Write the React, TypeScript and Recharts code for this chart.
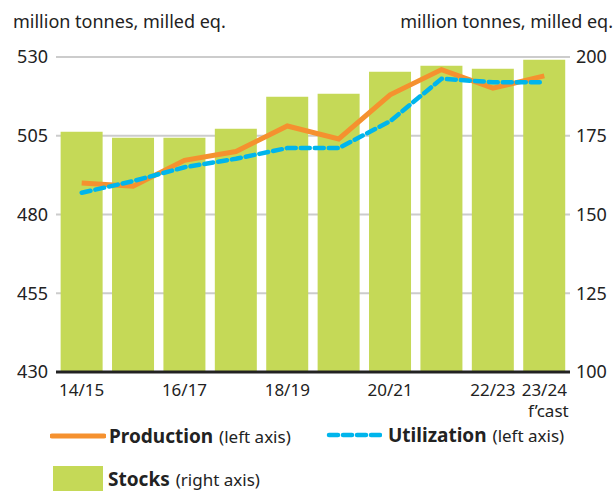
import React from "react";
import { ComposedChart, Bar, Line, XAxis, YAxis, CartesianGrid } from "recharts";

const categories = ["14/15", "15/16", "16/17", "17/18", "18/19", "19/20", "20/21", "21/22", "22/23", "23/24"];
const tickLabels = ["14/15", "", "16/17", "", "18/19", "", "20/21", "", "22/23", "23/24"];
const tickSubLabels = ["", "", "", "", "", "", "", "", "", "f\u2019cast"];
const production = [490.0, 489.0, 497.2, 500.0, 508.1, 504.0, 518.0, 526.0, 520.1, 524.0];
const utilization = [486.9, 490.6, 495.0, 497.7, 501.1, 501.1, 509.6, 523.1, 522.0, 522.0];
const stocks = [176.3, 174.4, 174.4, 177.2, 187.4, 188.3, 195.3, 197.2, 196.3, 199.1];
const leftTicks = [430, 455, 480, 505, 530];
const rightTicks = [100, 125, 150, 175, 200];

const data = categories.map((c, i) => ({
  cat: c,
  production: production[i],
  utilization: utilization[i],
  stocks: stocks[i],
}));

const FONT = "'Noto Sans', 'Open Sans', sans-serif";
const ORANGE = "#f5912f";
const BLUE = "#00b5ec";
const GREEN = "#c5d957";

const XTick = (props: any) => {
  const { x, y, payload } = props;
  const i = categories.indexOf(payload.value);
  return (
    <g>
      <text x={x} y={y + 16} textAnchor="middle" fontSize={17} fill="#222" fontFamily={FONT}>
        {tickLabels[i]}
      </text>
      {tickSubLabels[i] ? (
        <text x={x + 4} y={y + 37} textAnchor="middle" fontSize={17} fill="#222" fontFamily={FONT}>
          {tickSubLabels[i]}
        </text>
      ) : null}
    </g>
  );
};

export default function App() {
  return (
    <div style={{ position: "absolute", left: 0, top: 0, width: 616, height: 491, background: "#fff", fontFamily: FONT, overflow: "hidden" }}>
      <div style={{ position: "absolute", left: 13, top: 9, fontSize: 18, color: "#222" }}>million tonnes, milled eq.</div>
      <div style={{ position: "absolute", right: 3, top: 9, fontSize: 18, color: "#222" }}>million tonnes, milled eq.</div>
      <div style={{ position: "absolute", left: 0, top: 0 }}>
        <ComposedChart width={616} height={440} data={data} margin={{ top: 57, right: 0, bottom: 0, left: 0 }} barCategoryGap="9%">
          <CartesianGrid vertical={false} stroke="#cccccc" strokeWidth={2} yAxisId="left" />
          <XAxis
            dataKey="cat"
            interval={0}
            height={68}
            tick={<XTick />}
            tickLine={false}
            axisLine={{ stroke: "#222", strokeWidth: 3 }}
          />
          <YAxis
            yAxisId="left"
            orientation="left"
            width={56}
            domain={[430, 530]}
            ticks={leftTicks}
            tickLine={false}
            axisLine={false}
            tickSize={0}
            tickMargin={8}
            tick={{ fontSize: 18, fill: "#222", fontFamily: FONT }}
          />
          <YAxis
            yAxisId="right"
            orientation="right"
            width={46}
            domain={[100, 200]}
            ticks={rightTicks}
            tickLine={false}
            axisLine={false}
            tickSize={0}
            tickMargin={6}
            tick={{ fontSize: 18, fill: "#222", fontFamily: FONT, textAnchor: "start" }}
          />
          <Bar yAxisId="right" dataKey="stocks" fill={GREEN} isAnimationActive={false} />
          <Line yAxisId="left" dataKey="production" stroke={ORANGE} strokeWidth={5} dot={false} isAnimationActive={false} type="linear" />
          <Line yAxisId="left" dataKey="utilization" stroke={BLUE} strokeWidth={4.5} strokeDasharray="9 5" strokeLinecap="round" dot={false} isAnimationActive={false} type="linear" />
        </ComposedChart>
      </div>
      <div style={{ position: "absolute", left: 50, top: 423, display: "flex", alignItems: "center", color: "#222" }}>
        <svg width={56} height={8}><line x1={2} y1={4} x2={54} y2={4} stroke={ORANGE} strokeWidth={5} strokeLinecap="round" /></svg>
        <span style={{ fontWeight: 700, fontSize: 19, marginLeft: 3 }}>Production</span>
        <span style={{ fontSize: 17, marginLeft: 6 }}>(left axis)</span>
      </div>
      <div style={{ position: "absolute", left: 326, top: 422, display: "flex", alignItems: "center", color: "#222" }}>
        <svg width={56} height={8}><line x1={3} y1={4} x2={54} y2={4} stroke={BLUE} strokeWidth={4.5} strokeDasharray="9 5" strokeLinecap="round" /></svg>
        <span style={{ fontWeight: 700, fontSize: 19, marginLeft: 6 }}>Utilization</span>
        <span style={{ fontSize: 17, marginLeft: 6 }}>(left axis)</span>
      </div>
      <div style={{ position: "absolute", left: 53, top: 466, display: "flex", alignItems: "center", color: "#222" }}>
        <div style={{ width: 50, height: 26, background: GREEN }} />
        <span style={{ fontWeight: 700, fontSize: 19, marginLeft: 5 }}>Stocks</span>
        <span style={{ fontSize: 17, marginLeft: 6 }}>(right axis)</span>
      </div>
    </div>
  );
}
